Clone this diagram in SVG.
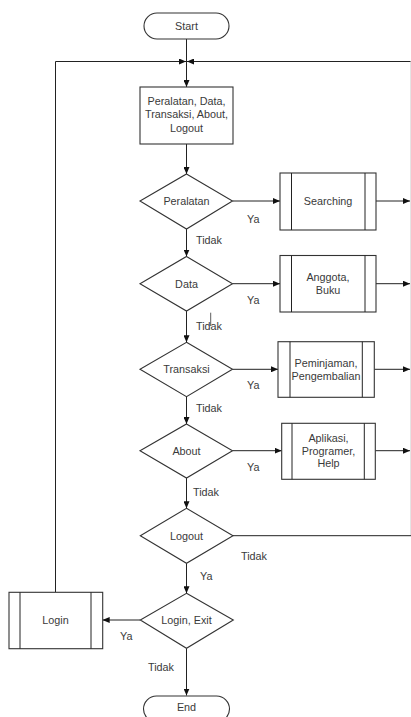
<svg xmlns="http://www.w3.org/2000/svg" width="411" height="717" viewBox="0 0 411 717">
<style>
.s{fill:#fff;stroke:#333;stroke-width:1.1}
.l{fill:none;stroke:#222;stroke-width:1}
.t{font-family:"Liberation Sans",Arial,sans-serif;font-size:10.8px;fill:#3a3a3a;text-anchor:middle}
.lb{font-family:"Liberation Sans",Arial,sans-serif;font-size:10.8px;fill:#3a3a3a}
</style>
<defs>
<marker id="a" markerUnits="userSpaceOnUse" markerWidth="7" markerHeight="6" refX="7" refY="3" orient="auto">
<path d="M0,0 L7,3 L0,6 z" fill="#111"/>
</marker>
</defs>
<rect width="411" height="717" fill="#fff"/>
<g id="connectors">
<line class="l" x1="186.5" y1="39" x2="186.5" y2="87" marker-end="url(#a)"/>
<polyline class="l" points="55.5,592 55.5,61.5 186,61.5" marker-end="url(#a)"/>
<line class="l" x1="411" y1="61.5" x2="187" y2="61.5" marker-end="url(#a)"/>
<line x1="410.5" y1="61.5" x2="410.5" y2="536" stroke="#e4e4e4" stroke-width="1"/>
<line class="l" x1="186.5" y1="144" x2="186.5" y2="174" marker-end="url(#a)"/>
<line class="l" x1="232.5" y1="201" x2="280" y2="201" marker-end="url(#a)"/>
<line class="l" x1="376" y1="201" x2="410" y2="201" marker-end="url(#a)"/>
<line class="l" x1="186.5" y1="229" x2="186.5" y2="256.5" marker-end="url(#a)"/>
<line class="l" x1="232.5" y1="283.7" x2="280" y2="283.7" marker-end="url(#a)"/>
<line class="l" x1="376" y1="283.7" x2="410" y2="283.7" marker-end="url(#a)"/>
<line class="l" x1="186.5" y1="311" x2="186.5" y2="342.3" marker-end="url(#a)"/>
<line x1="210.7" y1="312.7" x2="210.7" y2="326" stroke="#333" stroke-width="0.8"/>
<line class="l" x1="232.5" y1="369.3" x2="278" y2="369.3" marker-end="url(#a)"/>
<line class="l" x1="374.3" y1="369.3" x2="410" y2="369.3" marker-end="url(#a)"/>
<line class="l" x1="186.5" y1="396.7" x2="186.5" y2="424" marker-end="url(#a)"/>
<line class="l" x1="232.5" y1="450.7" x2="281.7" y2="450.7" marker-end="url(#a)"/>
<line class="l" x1="375.3" y1="450.7" x2="410" y2="450.7" marker-end="url(#a)"/>
<line class="l" x1="186.5" y1="478" x2="186.5" y2="508.3" marker-end="url(#a)"/>
<line class="l" x1="233" y1="535.7" x2="411" y2="535.7"/>
<line class="l" x1="186.5" y1="563.3" x2="186.5" y2="593.3" marker-end="url(#a)"/>
<line class="l" x1="140.3" y1="620" x2="102.7" y2="620" marker-end="url(#a)"/>
<line class="l" x1="186.5" y1="648.3" x2="186.5" y2="695.5" marker-end="url(#a)"/>
<text class="lb" x="247" y="222.5">Ya</text>
<text class="lb" x="196" y="243.5">Tidak</text>
<text class="lb" x="247" y="303.5">Ya</text>
<text class="lb" x="196" y="329.5">Tidak</text>
<text class="lb" x="247" y="388.5">Ya</text>
<text class="lb" x="196" y="411.5">Tidak</text>
<text class="lb" x="247" y="470.5">Ya</text>
<text class="lb" x="193" y="495.5">Tidak</text>
<text class="lb" x="241" y="559.5">Tidak</text>
<text class="lb" x="200" y="580">Ya</text>
<text class="lb" x="120" y="639.5">Ya</text>
<text class="lb" x="148" y="670.5">Tidak</text>
</g>
<g id="start">
<rect class="s" x="144" y="13" width="85" height="26" rx="13"/>
<text class="t" x="186.5" y="29.5">Start</text>
</g>
<g id="menu">
<rect class="s" x="140" y="87" width="93" height="57"/>
<text class="t" x="186.5" y="104.5">Peralatan, Data,</text>
<text class="t" x="186.5" y="118">Transaksi, About,</text>
<text class="t" x="186.5" y="131.5">Logout</text>
</g>
<g id="d-peralatan">
<polygon class="s" points="186.5,174 232.5,201 186.5,229 140,201"/>
<text class="t" x="186.5" y="204.7">Peralatan</text>
</g>
<g id="p-searching">
<rect class="s" x="280" y="173" width="96" height="57"/>
<line class="l" x1="291.5" y1="173" x2="291.5" y2="230"/>
<line class="l" x1="365" y1="173" x2="365" y2="230"/>
<text class="t" x="328" y="204.5">Searching</text>
</g>
<g id="d-data">
<polygon class="s" points="186.5,256.5 232.5,283.7 186.5,311 140,283.7"/>
<text class="t" x="186.5" y="287.5">Data</text>
</g>
<g id="p-anggota">
<rect class="s" x="280" y="255.5" width="96" height="56.5"/>
<line class="l" x1="291.5" y1="255.5" x2="291.5" y2="312"/>
<line class="l" x1="365" y1="255.5" x2="365" y2="312"/>
<text class="t" x="328" y="280.5">Anggota,</text>
<text class="t" x="328" y="293.8">Buku</text>
</g>
<g id="d-transaksi">
<polygon class="s" points="186.5,342.3 232.5,369.3 186.5,396.7 140,369.3"/>
<text class="t" x="186.5" y="373">Transaksi</text>
</g>
<g id="p-peminjaman">
<rect class="s" x="278" y="341.7" width="96.3" height="55.6"/>
<line class="l" x1="290" y1="341.7" x2="290" y2="397.3"/>
<line class="l" x1="362.3" y1="341.7" x2="362.3" y2="397.3"/>
<text class="t" x="326" y="366.5">Peminjaman,</text>
<text class="t" x="326" y="379.5">Pengembalian</text>
</g>
<g id="d-about">
<polygon class="s" points="186.5,424 232.5,450.7 186.5,478 140,450.7"/>
<text class="t" x="186.5" y="454.5">About</text>
</g>
<g id="p-aplikasi">
<rect class="s" x="281.7" y="423.3" width="93.6" height="56"/>
<line class="l" x1="292" y1="423.3" x2="292" y2="479.3"/>
<line class="l" x1="364.3" y1="423.3" x2="364.3" y2="479.3"/>
<text class="t" x="328.5" y="442">Aplikasi,</text>
<text class="t" x="328.5" y="454.5">Programer,</text>
<text class="t" x="328.5" y="466.5">Help</text>
</g>
<g id="d-logout">
<polygon class="s" points="186.5,508.3 233,535.7 186.5,563.3 140.3,535.7"/>
<text class="t" x="186.5" y="539.5">Logout</text>
</g>
<g id="d-loginexit">
<polygon class="s" points="186.5,593.3 233.3,620 186.5,648.3 140.3,620"/>
<text class="t" x="186.5" y="624">Login, Exit</text>
</g>
<g id="p-login">
<rect class="s" x="9" y="592.3" width="93.7" height="56.4"/>
<line class="l" x1="20" y1="592.3" x2="20" y2="648.7"/>
<line class="l" x1="91" y1="592.3" x2="91" y2="648.7"/>
<text class="t" x="55.5" y="624">Login</text>
</g>
<g id="end">
<rect class="s" x="143.5" y="696" width="86" height="26" rx="13"/>
<text class="t" x="186.5" y="711">End</text>
</g>
</svg>
